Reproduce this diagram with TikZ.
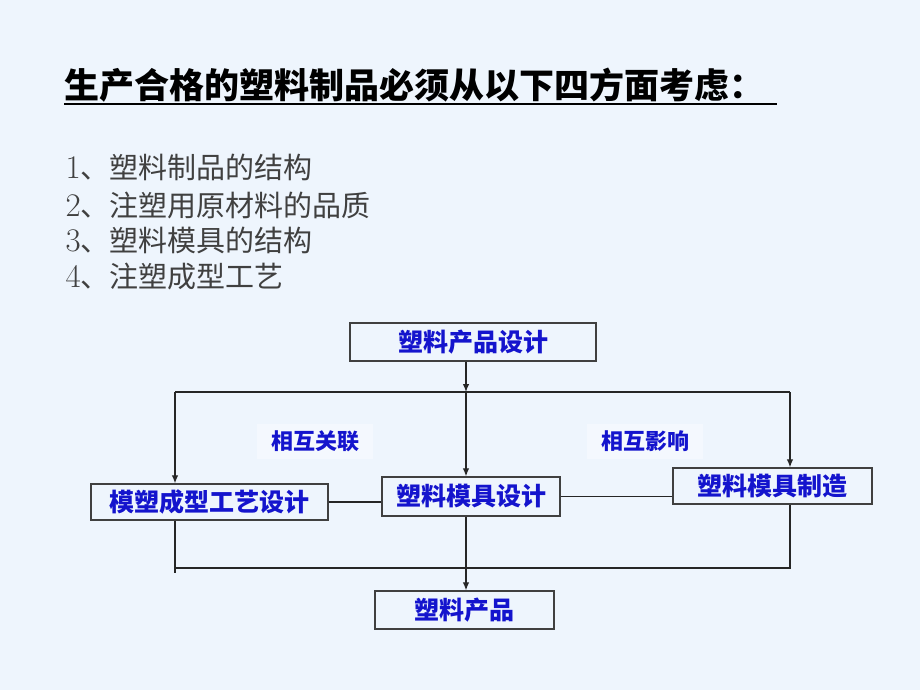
\documentclass[tikz,border=0pt]{standalone}
\usepackage{fontspec}
\newfontfamily\cjk{Noto Sans CJK SC}
\usepackage{tikz}
\usetikzlibrary{arrows.meta,positioning}
\definecolor{slidebg}{RGB}{238,245,253}
\definecolor{boxtext}{RGB}{20,20,205}
\definecolor{listgray}{RGB}{64,64,64}
\newcommand{\numfont}{\fontsize{33}{36}\selectfont}

\begin{document}
\begin{tikzpicture}[x=1pt, y=1pt, line width=1.2pt, >={Latex[length=8pt,width=6.5pt]}]
   \fill[slidebg] (0,0) rectangle (920,-690);
   \useasboundingbox (0,0) rectangle (920,-690);
   % title and the four points
   \node[anchor=base west, inner sep=0] (title) at (64,-99) {\cjk\bfseries\fontsize{35}{40}\selectfont 生产合格的塑料制品必须从以下四方面考虑：};
   \draw[line width=2pt] ([yshift=-5pt]title.base west) -- ([xshift=12pt,yshift=-5pt]title.base east);
   \begin{scope}[every node/.style={anchor=base west, inner sep=0, text=listgray}]
    \node (p1) at (65,-178) {\fontsize{29}{34}\selectfont{\numfont 1}\cjk 、塑料制品的结构};
    \node (p2) at (65,-216) {\fontsize{29}{34}\selectfont{\numfont 2}\cjk 、注塑用原材料的品质};
    \node (p3) at (65,-251) {\fontsize{29}{34}\selectfont{\numfont 3}\cjk 、塑料模具的结构};
    \node (p4) at (65,-287) {\fontsize{29}{34}\selectfont{\numfont 4}\cjk 、注塑成型工艺};
   \end{scope}
   % flow chart
   \begin{scope}[every node/.style={draw=black!75, line width=1.3pt, inner sep=0, text=boxtext, font={\cjk\bfseries\fontsize{25}{30}\selectfont}}]
    \node (design) at (473,-342) [minimum width=246, minimum height=38] {塑料产品设计};
    \node (process) at (209.5,-502) [minimum width=237, minimum height=36] {模塑成型工艺设计};
    \node (mold) at (471,-496.5) [minimum width=178, minimum height=39] {塑料模具设计};
    \node (make) at (772.5,-486) [minimum width=199, minimum height=36] {塑料模具制造};
    \node (product) at (464.5,-610) [minimum width=179, minimum height=38] {塑料产品};
   \end{scope}
   \begin{scope}[every node/.style={fill=white!35!slidebg, inner sep=0, minimum width=116, minimum height=35, text=boxtext, font={\cjk\bfseries\fontsize{22}{26}\selectfont}}]
    \node (corr) at (315,-441) {相互关联};
    \node (infl) at (645,-441) {相互影响};
   \end{scope}
   \coordinate (split) at (466,-392);
   \coordinate (tl) at (175,-392);
   \coordinate (tr) at (790,-392);
   \coordinate (bl) at (175,-568);
   \coordinate (br) at (790,-568);
   \begin{scope}[draw=black!85]
    \draw[->] (split |- design.south) -- (split);
    \draw (tl) -- (tr);
    \draw[->] (tl) -- (tl |- process.north);
    \draw[->] (split) -- (split |- mold.north);
    \draw[->] (tr) -- (tr |- make.north);
    \draw (process.east) -- (process.east -| mold.west);
    \draw (mold.east) -- (mold.east -| make.west);
    \draw (tl |- process.south) -- ([yshift=-5pt]bl);
    \draw (bl) -- (br) -- (tr |- make.south);
    \draw[->] (split |- mold.south) -- (split |- product.north);
   \end{scope}
\end{tikzpicture}
\end{document}
